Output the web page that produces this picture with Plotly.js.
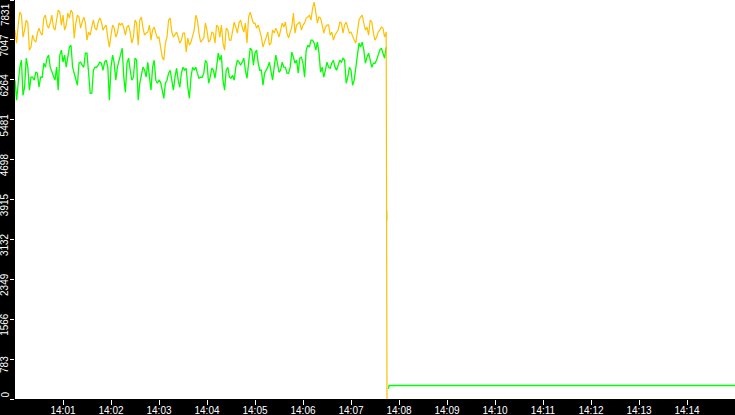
<!DOCTYPE html>
<html>
<head>
<meta charset="utf-8">
<script src="https://cdn.plot.ly/plotly-3.0.1.min.js"></script>
<style>
  html, body { margin: 0; padding: 0; background: #000; }
  #chart { width: 735px; height: 415px; }
</style>
</head>
<body>
<div id="chart"></div>
<script>
// readings every 4 s from 14:00:00, plus the spike between each pair (so 2 s apart)
var startTime = '2024-01-01 14:00:00';
var sampleStepMs = 2000;

var orangeSamples = [
  7242, 7341, 7537, 7242, 7380, 6908, 7045, 7183, 7183, 7478,
  7341, 7380, 7301, 7439, 7596, 7537, 7341, 7478, 7577, 7380,
  7498, 7400, 7380, 7203, 7301, 7282, 7400, 7400, 7301, 7085,
  7144, 7282, 7183, 7341, 7282, 7301, 7203, 7104, 7380, 7439,
  7282, 7183, 7341, 7242, 7183, 7104, 6711, 6986, 7439, 7203,
  7144, 7104, 7045, 7183, 7085, 7006, 7242, 7439, 7006,
  7085, 7242, 7045, 7183, 7341, 7104, 6986, 7282, 7045, 7242,
  7301, 7380, 7301, 7380, 7498, 7478, 7380, 7341, 7104, 6986,
  7203, 6986, 7183, 7203, 7242, 7301, 7183, 7203, 7577,
  7341, 7400, 7341, 7478, 7537, 7675, 7596, 7498, 7341, 7301,
  7341, 7203, 7144, 7242, 7380, 7341, 7282, 7203, 7045, 7183,
  7498, 7380, 7301, 7439, 7183, 7104, 7242, 7282, 7203
];
var orangeBetween = [
  6985, 7595, 7103, 7437, 6847, 7142, 7004, 7280, 7142, 7536,
  7280, 7536, 7241, 7634, 7339, 7241, 7575, 7634, 7083, 7536,
  7280, 7496, 7044, 7142, 7437, 7241, 7477, 7241, 7339,
  6906, 7339, 7103, 7378, 7378, 7142, 7339, 6985, 7437, 6945,
  7496, 7142, 7201, 7044, 7300, 7083, 6847, 6650, 7103, 7477,
  7103, 7201, 6985, 7182, 6808, 6945, 7103, 7536, 7182,
  7044, 7378, 7004, 7201, 6985, 7300, 7339, 6847, 7241, 7044,
  7398, 7182, 7437, 7201, 6985, 7595, 7378, 7280, 7241, 6906,
  7103, 6945, 7241, 7280, 7103, 7378, 7398, 7083, 7300,
  7182, 7378, 7241, 7378, 7496, 7437, 7792, 7378, 7477, 7182,
  7339, 7142, 7044, 7201, 7398, 7182, 7398, 7182, 7103, 6985,
  7437, 7536, 7241, 7142, 7398, 7044, 7201, 7300, 7103
];

var greenSamples = [
  6258, 6199, 6652, 6120, 6514, 6317, 6258, 6396, 6317, 6593,
  6691, 6514, 6317, 6514, 6750, 6612, 6514, 6908, 6514, 6258,
  6593, 6553, 6790, 6396, 6002, 6514, 6553, 6593, 6612, 6514,
  6514, 6593, 6514, 6790, 6317, 6593, 6455, 6317, 6652, 6199,
  6514, 6317, 6258, 6514, 6258, 6258, 6061, 6199, 6396, 6258,
  6317, 6258, 6396, 6455, 6120, 6317, 6455, 6396, 6317,
  6396, 6593, 6317, 6455, 6514, 6652, 6258, 6455, 6317, 6356,
  6514, 6612, 6612, 6455, 6593, 6849, 6790, 6593, 6455, 6396,
  6514, 6396, 6514, 6593, 6455, 6514, 6396, 6514, 6711,
  6652, 6691, 6593, 6849, 6908, 7045, 6849, 6790, 6514, 6455,
  6514, 6593, 6514, 6553, 6612, 6652, 6317, 6455, 6258, 6652,
  6908, 6849, 6711, 6652, 6593, 6652, 6849, 6790, 6908
];
var greenBetween = [
  5863, 6512, 5961, 6690, 6060, 6316, 6414, 6119, 6316, 6512,
  6749, 6414, 6257, 6060, 6847, 6749, 6690, 6945, 6394, 6158,
  6611, 6512, 6788, 6001, 6453, 6512, 6611, 6453, 6650,
  5863, 6749, 6257, 6650, 6886, 6020, 6690, 6257, 6690, 5863,
  6394, 6453, 6611, 6060, 6650, 6198, 6217, 5902, 6257, 6453,
  6060, 6493, 6119, 6512, 6493, 5902, 6512, 6512, 6296,
  6316, 6650, 6198, 6493, 6296, 6788, 6749, 6060, 6512, 6296,
  6257, 6650, 6552, 6690, 6296, 6886, 6552, 6847, 6453, 6158,
  6453, 6611, 6257, 6749, 6414, 6611, 6512, 6394, 6808,
  6591, 6394, 6709, 6316, 6945, 7044, 6985, 7004, 6414, 6316,
  6611, 6493, 6650, 6453, 6650, 6690, 6198, 6512, 6158, 6512,
  6985, 7004, 6591, 6788, 6512, 6591, 6749, 6886, 6690
];

// after the drop
var orangeDropTimes = ['2024-01-01 14:07:45'];
var orangeDropValues = [0];
var greenDropTimes = ['2024-01-01 14:07:44.3', '2024-01-01 14:07:44.5', '2024-01-01 14:07:44.6',
                      '2024-01-01 14:07:46', '2024-01-01 14:07:47', '2024-01-01 14:07:47.5', '2024-01-01 14:15:00'];
var greenDropValues = [null, 3700, 3500, null, 200, 265, 265];

var yTickVals = [0, 783, 1566, 2349, 3132, 3915, 4698, 5481, 6264, 7047, 7831];
var yTickText = ['0', '783', '1566', '2349', '3132', '3915', '4698', '5481', '6264', '7047', '7831'];
var xTickText = ['14:01', '14:02', '14:03', '14:04', '14:05', '14:06', '14:07',
                 '14:08', '14:09', '14:10', '14:11', '14:12', '14:13', '14:14'];

// sample, spike, sample, spike ...
function interleave(samples, between){
  let out = [];
  for (let i = 0; i < samples.length; i++) {
    out.push(samples[i]);
    if (i < between.length) out.push(between[i]);
  }
  return out;
}

function sampleTimes(n){
  let t0 = new Date(startTime.replace(' ', 'T') + 'Z').getTime();
  let out = [];
  for (let i = 0; i < n; i++) {
    out.push(new Date(t0 + i * sampleStepMs).toISOString().replace('T', ' ').replace('Z', ''));
  }
  return out;
}

var orangeValues = interleave(orangeSamples, orangeBetween);
var greenValues = interleave(greenSamples, greenBetween);
var times = sampleTimes(orangeValues.length);

var greenTrace = {
  x: times.concat(greenDropTimes),
  y: greenValues.concat(greenDropValues),
  mode: 'lines',
  type: 'scatter',
  line: {color: '#00ff00', width: 1.3},
  connectgaps: false,
  hoverinfo: 'skip'
};

var orangeTrace = {
  x: times.concat(orangeDropTimes),
  y: orangeValues.concat(orangeDropValues),
  mode: 'lines',
  type: 'scatter',
  line: {color: '#ffc000', width: 1.2},
  hoverinfo: 'skip'
};

var tickFont = {family: 'Liberation Sans, Arial, sans-serif', size: 10, color: '#ffffff'};

// the first and last y labels sit inside the plot edges, so they go in as annotations
var last = yTickVals.length - 1;
var edgeLabels = [
  {x: 0, xref: 'paper', xanchor: 'right', xshift: -4, y: yTickVals[0], yref: 'y', yanchor: 'bottom',
   text: yTickText[0], textangle: -90, showarrow: false, borderpad: 0, font: tickFont},
  {x: 0, xref: 'paper', xanchor: 'right', xshift: -3, y: yTickVals[last], yref: 'y', yanchor: 'top', yshift: -2,
   text: yTickText[last], textangle: -90, showarrow: false, borderpad: 0, font: tickFont}
];
var midTickText = yTickText.map(function(t, i){ return (i == 0 || i == last) ? '' : t; });

var layout = {
  width: 735,
  height: 415,
  showlegend: false,
  paper_bgcolor: '#000000',
  plot_bgcolor: '#ffffff',
  margin: {l: 15, r: 0, t: 0, b: 16, pad: 0},
  annotations: edgeLabels,
  xaxis: {
    type: 'date',
    range: ['2024-01-01 14:00:00', '2024-01-01 14:15:00'],
    tickmode: 'array',
    tickvals: xTickText.map(function(t){ return '2024-01-01 ' + t + ':00'; }),
    ticktext: xTickText,
    ticks: 'outside',
    ticklen: 5,
    tickcolor: '#ffffff',
    tickwidth: 1,
    tickfont: tickFont,
    ticklabelstandoff: -3,
    ticklabeloverflow: 'allow',
    showgrid: false,
    zeroline: false,
    showline: false,
    fixedrange: true
  },
  yaxis: {
    range: [0, 7832],
    tickmode: 'array',
    tickvals: yTickVals,
    ticktext: midTickText,
    tickangle: -90,
    ticks: 'outside',
    ticklen: 4,
    tickcolor: '#ffffff',
    tickwidth: 1,
    tickfont: tickFont,
    ticklabelshift: 7,
    ticklabelstandoff: -2,
    ticklabeloverflow: 'allow',
    showgrid: false,
    zeroline: false,
    showline: false,
    fixedrange: true
  }
};

Plotly.newPlot('chart', [greenTrace, orangeTrace], layout, {displayModeBar: false, staticPlot: true});
</script>
</body>
</html>
